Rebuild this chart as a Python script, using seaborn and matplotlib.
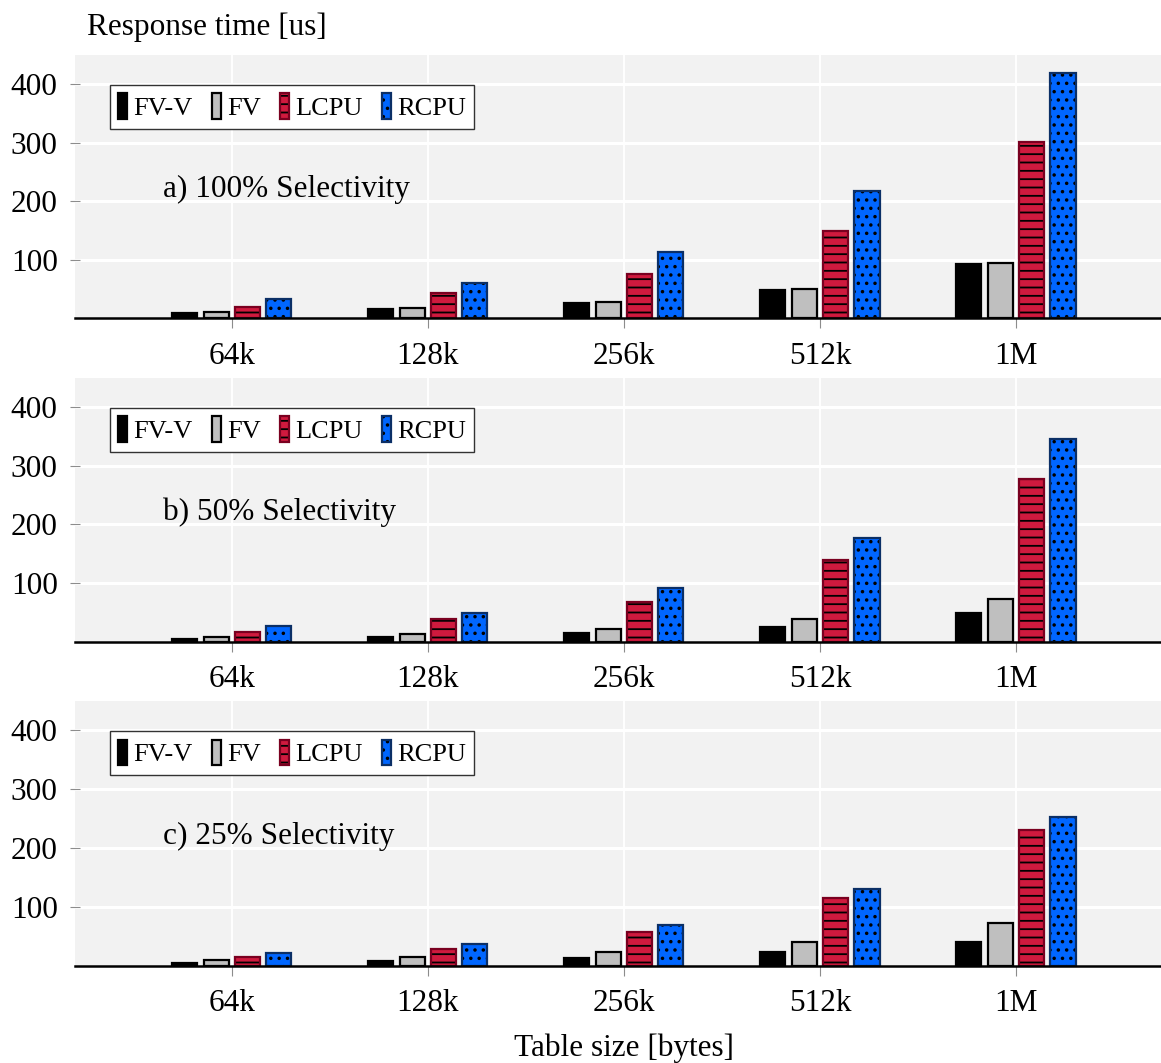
import matplotlib
matplotlib.use("Agg")
import matplotlib.pyplot as plt
from matplotlib.patches import Patch
import seaborn as sns
import pandas as pd

# Table sizes on the x axis and the four measured configurations
sizes = ["64k", "128k", "256k", "512k", "1M"]
series = ["FV-V", "FV", "LCPU", "RCPU"]

# Response times [us], 100% selectivity
fvv_100 = [9, 16, 26, 49, 93]
fv_100 = [11, 18, 28, 51, 95]
lcpu_100 = [19, 43, 76, 150, 302]
rcpu_100 = [34, 60, 113, 217, 420]

# Response times [us], 50% selectivity
fvv_50 = [5, 8, 15, 25, 48]
fv_50 = [7, 13, 21, 38, 72]
lcpu_50 = [17, 38, 68, 140, 278]
rcpu_50 = [27, 49, 91, 176, 345]

# Response times [us], 25% selectivity
fvv_25 = [5, 7, 13, 23, 40]
fv_25 = [9, 14, 23, 40, 73]
lcpu_25 = [15, 28, 57, 115, 230]
rcpu_25 = [21, 36, 69, 130, 252]

panel_titles = ["a) 100% Selectivity", "b) 50% Selectivity", "c) 25% Selectivity"]
panel_values = [
    [fvv_100, fv_100, lcpu_100, rcpu_100],
    [fvv_50, fv_50, lcpu_50, rcpu_50],
    [fvv_25, fv_25, lcpu_25, rcpu_25],
]
y_ticks = [100, 200, 300, 400]

# Styling per configuration
fills = {"FV-V": "#000000", "FV": "#BFBFBF", "LCPU": "#CF1A3E", "RCPU": "#0066FF"}
edges = {"FV-V": "#000000", "FV": "#000000", "LCPU": "#7A0020", "RCPU": "#0B2F66"}
hatches = {"FV-V": "", "FV": "", "LCPU": "--", "RCPU": ".."}

sns.set_theme(style="darkgrid")
plt.rcParams["font.family"] = ["Liberation Serif", "DejaVu Serif"]
plt.rcParams["hatch.linewidth"] = 1.3
plt.rcParams["hatch.color"] = "black"
plt.rcParams["text.color"] = "black"
plt.rcParams["xtick.labelcolor"] = "black"
plt.rcParams["ytick.labelcolor"] = "black"

W, H = 1161, 1063
fig = plt.figure(figsize=(W / 100, H / 100), dpi=100)

# panel placement in pixels: (top, bottom of axis line)
panel_px = [(55, 318.5), (378, 641.5), (701, 965.5)]
left_px = 75

FS = 22.5


def black_hatch(patch):
    try:
        patch.set_hatchcolor("black")
    except AttributeError:
        patch._hatch_color = (0, 0, 0, 1)


for (top, bottom), title, vals in zip(panel_px, panel_titles, panel_values):
    ax = fig.add_axes([left_px / W, 1 - bottom / H, 1 - left_px / W, (bottom - top) / H])
    rows = []
    for s, v in zip(series, vals):
        for size, val in zip(sizes, v):
            rows.append({"size": size, "series": s, "value": val})
    df = pd.DataFrame(rows)

    sns.barplot(
        data=df, x="size", y="value", hue="series",
        order=sizes, hue_order=series, palette=fills,
        saturation=1, width=0.64, gap=0.2, legend=False, ax=ax,
        linewidth=1.6,
    )
    for s, cont in zip(series, ax.containers):
        for p in cont.patches:
            p.set_edgecolor(edges[s])
            p.set_linewidth(1.6)
            if hatches[s]:
                p.set_hatch(hatches[s])
                black_hatch(p)

    ax.set_facecolor("#F2F2F2")
    ax.set_xlim(-0.8, 4.74)
    ax.set_ylim(0, 450)
    ax.set_yticks(y_ticks)
    ax.set_xlabel("")
    ax.set_ylabel("")
    ax.set_axisbelow(True)
    ax.grid(False)
    ax.yaxis.grid(True, color="white", linewidth=2.2)
    ax.xaxis.grid(True, color="white", linewidth=1.4)
    for side in ["top", "right", "left"]:
        ax.spines[side].set_visible(False)
    ax.spines["bottom"].set_visible(True)
    ax.spines["bottom"].set_color("black")
    ax.spines["bottom"].set_linewidth(1.8)
    ax.spines["bottom"].set_zorder(5)
    ax.tick_params(axis="y", which="major", direction="inout", length=7,
                   width=0.8, color="#8C8C8C", labelsize=FS, pad=9, left=True,
                   labelcolor="black")
    ax.tick_params(axis="x", which="major", direction="out", length=7,
                   width=0.8, color="#8C8C8C", labelsize=FS, pad=10, bottom=True,
                   labelcolor="black")

    ax.text(-0.35, 220, title, ha="left", va="center", fontsize=FS, color="black")

    handles = [
        Patch(facecolor=fills[s], edgecolor=edges[s], hatch=hatches[s] or None,
              linewidth=1.6, label=s)
        for s in series
    ]
    leg = ax.legend(
        handles=handles, loc="upper left", bbox_to_anchor=(0.032, 0.886),
        borderaxespad=0, ncol=4, fontsize=19, handlelength=0.34,
        handleheight=1.1, handletextpad=0.22, columnspacing=0.75,
        borderpad=0.32, fancybox=False, framealpha=1, frameon=True,
    )
    leg.get_frame().set_edgecolor("#333333")
    leg.get_frame().set_linewidth(1.0)
    leg.get_frame().set_facecolor("white")
    for t in leg.get_texts():
        t.set_color("black")
    for h in leg.legend_handles:
        if h.get_hatch():
            black_hatch(h)

fig.text(87 / W, 1 - 27 / H, "Response time [us]", ha="left", va="center",
         fontsize=FS, color="black")
fig.text(624 / W, 1 - 1048 / H, "Table size [bytes]", ha="center", va="center",
         fontsize=FS, color="black")

fig.savefig("out.png", dpi=100, facecolor="white")
